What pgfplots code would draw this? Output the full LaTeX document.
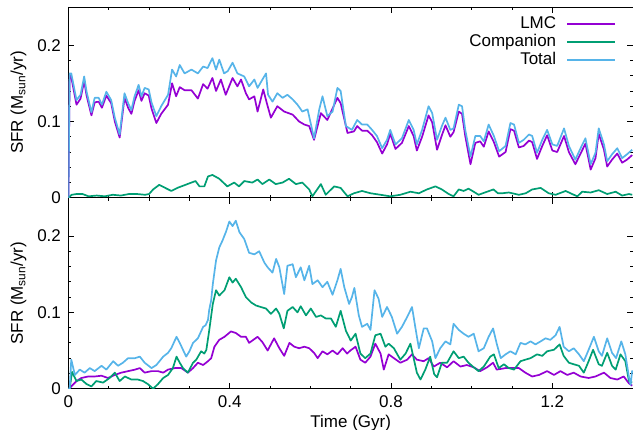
\documentclass[border=0pt]{standalone}
\usepackage{pgfplots}
\pgfplotsset{compat=1.18}
\usepackage{fontspec}
\setmainfont{Liberation Sans}
\definecolor{lmc}{HTML}{9400D3}
\definecolor{comp}{HTML}{009E73}
\definecolor{tot}{HTML}{56B4E9}
\pgfplotsset{
  sfr/.style={
    scale only axis, width=565pt, height=191pt,
    xmin=0, xmax=1.4, ymin=0, ymax=0.25,
    xtick={0,0.4,0.8,1.2}, minor x tick num=3,
    ytick={0,0.1,0.2}, minor y tick num=4,
    tick align=inside, major tick length=6pt, minor tick length=3pt,
    every tick/.style={black, line width=0.8pt},
    axis line style={line width=0.9pt},
    /pgf/number format/assume math mode=true,
    yticklabel style={xshift=-4pt},
    xticklabel style={yshift=-3pt},
    every axis y label/.style={at={(rel axis cs:0,0.5)}, xshift=-50pt, rotate=90, anchor=center},
    ylabel={SFR (M\textsubscript{sun}/yr)},
    every axis plot/.append style={line width=1.7pt, line join=round},
  }
}
\begin{document}
\begin{tikzpicture}[font=\fontsize{17}{20}\selectfont]
% lower panel
\begin{axis}[sfr, at={(68.5pt,41pt)}, anchor=south west,
  xlabel={Time (Gyr)},
  every axis x label/.style={at={(rel axis cs:0.5,0)}, anchor=center, yshift=-34pt}]
\addplot[lmc] coordinates {
(0,0) (0.003,0) (0.007,0.003) (0.020,0.010) (0.032,0.014) (0.049,0.016) (0.065,0.016) (0.082,0.017) (0.098,0.014) (0.115,0.018) (0.131,0.021) (0.148,0.023) (0.165,0.025) (0.177,0.027) (0.189,0.021) (0.206,0.023) (0.222,0.023) (0.235,0.021) (0.247,0.025) (0.264,0.027) (0.280,0.027) (0.296,0.021) (0.309,0.027) (0.321,0.034) (0.334,0.031) (0.346,0.036) (0.354,0.040) (0.362,0.055) (0.374,0.064) (0.387,0.068) (0.403,0.075) (0.415,0.073) (0.428,0.068) (0.440,0.068) (0.448,0.060) (0.469,0.068) (0.481,0.061) (0.494,0.050) (0.510,0.066) (0.523,0.053) (0.535,0.043) (0.548,0.060) (0.560,0.055) (0.572,0.053) (0.585,0.055) (0.597,0.053) (0.609,0.047) (0.618,0.040) (0.630,0.049) (0.642,0.045) (0.655,0.050) (0.667,0.045) (0.680,0.053) (0.691,0.046) (0.699,0.050) (0.712,0.055) (0.724,0.038) (0.736,0.034) (0.749,0.042) (0.761,0.059) (0.774,0.046) (0.782,0.025) (0.794,0.045) (0.807,0.040) (0.823,0.034) (0.840,0.038) (0.852,0.045) (0.864,0.038) (0.881,0.036) (0.893,0.040) (0.906,0.029) (0.922,0.034) (0.939,0.028) (0.955,0.036) (0.972,0.029) (0.988,0.031) (1.005,0.028) (1.021,0.023) (1.038,0.028) (1.053,0.034) (1.062,0.025) (1.084,0.027) (1.101,0.027) (1.117,0.027) (1.133,0.021) (1.150,0.016) (1.167,0.018) (1.187,0.023) (1.204,0.018) (1.220,0.023) (1.237,0.018) (1.253,0.021) (1.270,0.016) (1.290,0.014) (1.307,0.016) (1.328,0.021) (1.344,0.014) (1.361,0.012) (1.377,0.016) (1.390,0.007) (1.398,0.004)
};
\addplot[comp] coordinates {
(0,0) (0.003,0) (0.009,0.022) (0.020,0.010) (0.032,0.012) (0.045,0.006) (0.057,0.003) (0.069,0.010) (0.086,0.008) (0.102,0.014) (0.115,0.021) (0.127,0.010) (0.140,0.016) (0.156,0.012) (0.172,0.012) (0.185,0.010) (0.197,0.006) (0.210,0.000) (0.222,0.006) (0.235,0.014) (0.247,0.018) (0.259,0.027) (0.268,0.042) (0.276,0.034) (0.284,0.027) (0.296,0.021) (0.309,0.034) (0.317,0.038) (0.329,0.049) (0.337,0.046) (0.342,0.051) (0.349,0.076) (0.358,0.111) (0.366,0.129) (0.374,0.122) (0.387,0.129) (0.399,0.146) (0.407,0.139) (0.415,0.144) (0.428,0.133) (0.440,0.120) (0.453,0.113) (0.465,0.109) (0.477,0.107) (0.490,0.105) (0.502,0.098) (0.515,0.105) (0.523,0.098) (0.534,0.079) (0.543,0.102) (0.556,0.107) (0.568,0.100) (0.576,0.108) (0.589,0.096) (0.601,0.105) (0.614,0.094) (0.626,0.096) (0.638,0.092) (0.651,0.092) (0.663,0.081) (0.675,0.102) (0.688,0.076) (0.700,0.063) (0.712,0.072) (0.724,0.046) (0.736,0.040) (0.749,0.046) (0.761,0.070) (0.774,0.072) (0.786,0.055) (0.794,0.059) (0.807,0.053) (0.823,0.038) (0.836,0.046) (0.848,0.059) (0.856,0.040) (0.864,0.021) (0.873,0.012) (0.885,0.025) (0.897,0.042) (0.907,0.019) (0.914,0.015) (0.926,0.034) (0.939,0.034) (0.955,0.049) (0.968,0.040) (0.980,0.042) (0.992,0.034) (1.005,0.028) (1.017,0.023) (1.030,0.029) (1.046,0.042) (1.055,0.045) (1.067,0.027) (1.080,0.032) (1.092,0.027) (1.105,0.025) (1.121,0.036) (1.133,0.038) (1.146,0.040) (1.162,0.045) (1.175,0.043) (1.187,0.049) (1.204,0.051) (1.218,0.058) (1.228,0.043) (1.241,0.034) (1.253,0.032) (1.266,0.030) (1.278,0.021) (1.290,0.036) (1.301,0.051) (1.315,0.032) (1.323,0.030) (1.336,0.047) (1.348,0.030) (1.357,0.025) (1.369,0.045) (1.381,0.036) (1.390,0.010) (1.398,0.008)
};
\addplot[tot] coordinates {
(0,0) (0.003,0.0) (0.007,0.038) (0.016,0.018) (0.028,0.025) (0.040,0.021) (0.053,0.027) (0.065,0.023) (0.082,0.030) (0.094,0.025) (0.111,0.036) (0.123,0.030) (0.135,0.034) (0.148,0.040) (0.165,0.040) (0.177,0.042) (0.189,0.034) (0.206,0.027) (0.218,0.031) (0.235,0.042) (0.247,0.047) (0.255,0.053) (0.268,0.068) (0.276,0.060) (0.284,0.051) (0.292,0.042) (0.300,0.049) (0.309,0.060) (0.321,0.066) (0.334,0.081) (0.340,0.083) (0.346,0.090) (0.349,0.103) (0.354,0.116) (0.358,0.137) (0.366,0.168) (0.374,0.185) (0.382,0.194) (0.391,0.206) (0.399,0.219) (0.407,0.213) (0.415,0.220) (0.424,0.205) (0.436,0.196) (0.448,0.178) (0.461,0.176) (0.473,0.180) (0.486,0.165) (0.494,0.159) (0.506,0.152) (0.515,0.170) (0.523,0.159) (0.535,0.124) (0.543,0.161) (0.556,0.163) (0.564,0.146) (0.576,0.159) (0.585,0.142) (0.597,0.161) (0.605,0.137) (0.618,0.142) (0.630,0.133) (0.642,0.140) (0.655,0.123) (0.667,0.142) (0.675,0.157) (0.684,0.133) (0.696,0.111) (0.703,0.120) (0.709,0.132) (0.720,0.096) (0.728,0.081) (0.741,0.085) (0.749,0.077) (0.759,0.129) (0.769,0.118) (0.778,0.094) (0.790,0.107) (0.802,0.094) (0.815,0.072) (0.827,0.081) (0.840,0.094) (0.852,0.107) (0.860,0.081) (0.869,0.053) (0.881,0.079) (0.889,0.079) (0.902,0.062) (0.910,0.040) (0.922,0.053) (0.935,0.062) (0.947,0.058) (0.955,0.085) (0.968,0.077) (0.980,0.072) (0.992,0.068) (1.005,0.072) (1.017,0.049) (1.030,0.053) (1.042,0.068) (1.053,0.079) (1.062,0.059) (1.072,0.040) (1.084,0.045) (1.096,0.049) (1.109,0.045) (1.121,0.060) (1.133,0.058) (1.146,0.062) (1.158,0.058) (1.171,0.062) (1.183,0.066) (1.195,0.064) (1.208,0.070) (1.218,0.081) (1.228,0.055) (1.241,0.049) (1.253,0.053) (1.266,0.045) (1.278,0.036) (1.290,0.051) (1.303,0.068) (1.315,0.049) (1.323,0.043) (1.336,0.066) (1.348,0.047) (1.358,0.040) (1.371,0.062) (1.381,0.045) (1.390,0.015) (1.394,0.005) (1.398,0.024)
};
\end{axis}
% upper panel
\begin{axis}[sfr, at={(68.5pt,232pt)}, anchor=south west,
  xticklabels={},
  legend cell align=right, legend plot pos=right,
  legend image code/.code={\draw[#1] (0pt,0pt) -- (48pt,0pt);},
  legend style={at={(rel axis cs:1,1)}, anchor=north east, xshift=-14pt, yshift=-6pt,
    draw=none, fill=none, row sep=0pt,
    nodes={inner sep=1pt, text height=12pt, text depth=4pt},
    /tikz/every odd column/.style={column sep=9pt}}]
\addplot[lmc] coordinates {
(0,0) (0.003,0.160) (0.007,0.158) (0.02,0.122) (0.03,0.130) (0.039,0.153) (0.045,0.134) (0.057,0.108) (0.065,0.125) (0.075,0.126) (0.083,0.118) (0.094,0.134) (0.106,0.124) (0.115,0.100) (0.127,0.079) (0.139,0.131) (0.148,0.118) (0.156,0.110) (0.164,0.127) (0.174,0.141) (0.181,0.127) (0.189,0.137) (0.199,0.134) (0.206,0.117) (0.218,0.098) (0.230,0.110) (0.247,0.122) (0.257,0.150) (0.267,0.133) (0.276,0.145) (0.288,0.141) (0.305,0.141) (0.321,0.130) (0.334,0.149) (0.345,0.143) (0.357,0.157) (0.366,0.140) (0.378,0.155) (0.390,0.135) (0.407,0.157) (0.419,0.146) (0.428,0.155) (0.440,0.137) (0.448,0.129) (0.461,0.133) (0.469,0.113) (0.483,0.142) (0.493,0.122) (0.502,0.105) (0.518,0.120) (0.535,0.113) (0.556,0.109) (0.572,0.100) (0.585,0.096) (0.597,0.094) (0.609,0.076) (0.626,0.111) (0.642,0.102) (0.667,0.131) (0.675,0.124) (0.692,0.085) (0.708,0.087) (0.716,0.094) (0.728,0.088) (0.741,0.088) (0.753,0.082) (0.765,0.073) (0.778,0.058) (0.790,0.070) (0.798,0.084) (0.811,0.064) (0.827,0.072) (0.844,0.094) (0.856,0.081) (0.864,0.062) (0.877,0.080) (0.893,0.108) (0.902,0.099) (0.914,0.063) (0.926,0.082) (0.935,0.095) (0.947,0.080) (0.955,0.086) (0.968,0.113) (0.976,0.110) (0.984,0.081) (0.997,0.044) (1.009,0.072) (1.021,0.074) (1.030,0.067) (1.042,0.087) (1.055,0.073) (1.068,0.054) (1.084,0.060) (1.096,0.090) (1.105,0.088) (1.117,0.066) (1.129,0.068) (1.142,0.075) (1.150,0.073) (1.162,0.051) (1.175,0.068) (1.187,0.082) (1.200,0.062) (1.212,0.060) (1.229,0.081) (1.241,0.060) (1.257,0.044) (1.270,0.058) (1.282,0.071) (1.295,0.037) (1.307,0.052) (1.315,0.084) (1.328,0.063) (1.336,0.041) (1.348,0.050) (1.361,0.058) (1.373,0.046) (1.385,0.050) (1.398,0.056)
};
\addlegendentry{LMC}
\addplot[comp] coordinates {
(0,0) (0.008,0.004) (0.02,0.005) (0.035,0.005) (0.05,0.002) (0.07,0.003) (0.09,0.002) (0.11,0.004) (0.13,0.003) (0.15,0.005) (0.17,0.005) (0.19,0.004) (0.2,0.005) (0.21,0.011) (0.225,0.017) (0.24,0.013) (0.255,0.009) (0.27,0.013) (0.29,0.017) (0.305,0.020) (0.315,0.022) (0.325,0.015) (0.337,0.015) (0.346,0.028) (0.357,0.030) (0.374,0.025) (0.394,0.015) (0.411,0.020) (0.423,0.015) (0.436,0.022) (0.456,0.020) (0.469,0.024) (0.481,0.018) (0.498,0.024) (0.514,0.018) (0.531,0.020) (0.547,0.025) (0.564,0.018) (0.580,0.020) (0.597,0.011) (0.605,0.002) (0.626,0.018) (0.638,0.004) (0.659,0.015) (0.675,0.013) (0.692,0.002) (0.708,0.006) (0.728,0.009) (0.749,0.006) (0.774,0.004) (0.798,0.002) (0.823,0.004) (0.848,0.008) (0.869,0.006) (0.889,0.011) (0.910,0.015) (0.926,0.011) (0.943,0.005) (0.955,0.002) (0.968,0.011) (0.980,0.009) (0.992,0.012) (1.005,0.008) (1.017,0.004) (1.038,0.008) (1.054,0.011) (1.065,0.006) (1.076,0.006) (1.092,0.007) (1.117,0.004) (1.134,0.006) (1.150,0.011) (1.171,0.013) (1.191,0.006) (1.208,0.004) (1.233,0.009) (1.249,0.005) (1.262,0.002) (1.274,0.008) (1.295,0.007) (1.315,0.010) (1.336,0.005) (1.357,0.008) (1.373,0.003) (1.390,0.005) (1.398,0.004)
};
\addlegendentry{Companion}
\addplot[tot] coordinates {
(0,0) (0.003,0.163) (0.007,0.163) (0.02,0.128) (0.03,0.135) (0.039,0.159) (0.045,0.139) (0.057,0.112) (0.065,0.131) (0.075,0.131) (0.083,0.122) (0.094,0.139) (0.106,0.128) (0.115,0.105) (0.127,0.083) (0.139,0.137) (0.148,0.124) (0.156,0.115) (0.164,0.133) (0.174,0.148) (0.181,0.133) (0.189,0.144) (0.199,0.142) (0.206,0.125) (0.218,0.107) (0.230,0.120) (0.247,0.135) (0.257,0.168) (0.267,0.159) (0.276,0.174) (0.288,0.163) (0.305,0.168) (0.321,0.163) (0.334,0.172) (0.345,0.170) (0.357,0.183) (0.366,0.168) (0.374,0.181) (0.386,0.163) (0.395,0.166) (0.407,0.177) (0.419,0.163) (0.436,0.159) (0.448,0.146) (0.461,0.155) (0.469,0.144) (0.481,0.155) (0.490,0.163) (0.495,0.135) (0.506,0.126) (0.518,0.137) (0.531,0.131) (0.543,0.135) (0.556,0.129) (0.568,0.122) (0.580,0.113) (0.593,0.116) (0.609,0.078) (0.622,0.116) (0.630,0.133) (0.642,0.107) (0.655,0.113) (0.667,0.144) (0.675,0.140) (0.688,0.094) (0.703,0.089) (0.716,0.102) (0.728,0.096) (0.741,0.096) (0.753,0.089) (0.765,0.081) (0.778,0.065) (0.790,0.076) (0.798,0.089) (0.811,0.070) (0.827,0.078) (0.844,0.102) (0.856,0.089) (0.864,0.070) (0.877,0.089) (0.893,0.120) (0.902,0.111) (0.914,0.076) (0.926,0.094) (0.935,0.105) (0.947,0.089) (0.955,0.091) (0.968,0.122) (0.976,0.120) (0.984,0.089) (0.997,0.054) (1.009,0.081) (1.021,0.081) (1.030,0.074) (1.042,0.096) (1.055,0.081) (1.068,0.061) (1.084,0.068) (1.096,0.098) (1.105,0.096) (1.117,0.072) (1.129,0.076) (1.142,0.083) (1.150,0.081) (1.162,0.059) (1.175,0.076) (1.187,0.089) (1.200,0.070) (1.212,0.068) (1.229,0.091) (1.241,0.068) (1.257,0.050) (1.270,0.065) (1.282,0.078) (1.295,0.044) (1.307,0.059) (1.315,0.091) (1.328,0.070) (1.336,0.048) (1.348,0.057) (1.361,0.065) (1.373,0.052) (1.385,0.057) (1.398,0.063)
};
\addlegendentry{Total}
\end{axis}
\pgfresetboundingbox
\path[use as bounding box] (0,0) rectangle (633.5pt,430pt);
\end{tikzpicture}
\end{document}
